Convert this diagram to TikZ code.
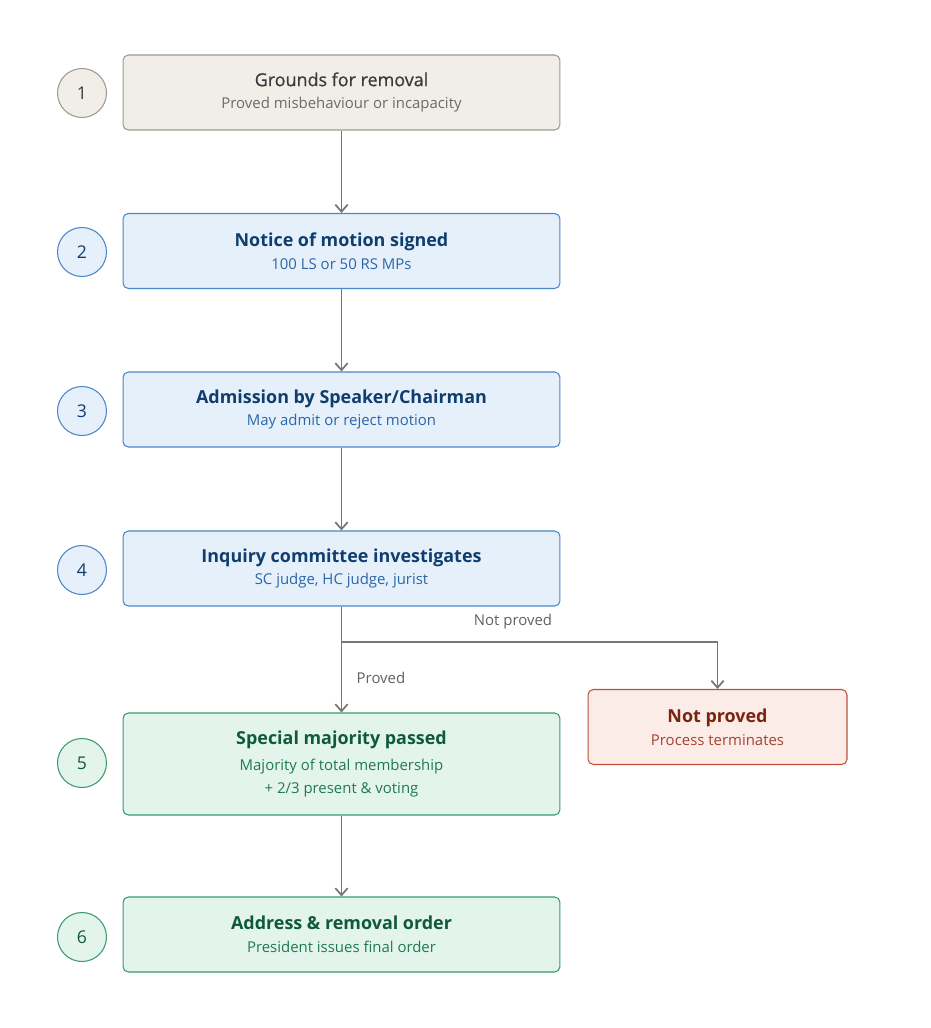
\documentclass[tikz,border=0pt]{standalone}
\usepackage{fontspec}
\setmainfont{Open Sans}
\usetikzlibrary{arrows.meta}
\definecolor{greyfill}{HTML}{F1EEE8}
\definecolor{greyline}{HTML}{9E9A92}
\definecolor{greytext}{HTML}{3A3A3A}
\definecolor{bluefill}{HTML}{E6F0FB}
\definecolor{blueline}{HTML}{4A86C8}
\definecolor{bluetext}{HTML}{0F3D6E}
\definecolor{bluesub}{HTML}{2A66AA}
\definecolor{greenfill}{HTML}{E3F4EC}
\definecolor{greenline}{HTML}{3A9A6E}
\definecolor{greentext}{HTML}{0E5A3A}
\definecolor{greensub}{HTML}{1F7A50}
\definecolor{redfill}{HTML}{FBECE8}
\definecolor{redline}{HTML}{C0503A}
\definecolor{redtext}{HTML}{7A2410}
\definecolor{arrowgrey}{HTML}{777777}
\tikzset{
  stage/.style={draw, rounded corners=3pt, minimum width=8.74cm, minimum height=1.5cm, align=center, line width=0.6pt},
  num/.style={draw, circle, minimum size=0.98cm, line width=0.6pt, font=\fontsize{10}{12}\selectfont},
  flow/.style={draw=arrowgrey, line width=1pt, -{Straight Barb[length=4pt,width=7pt]}},
  lbl/.style={text=greytext!80, font=\fontsize{8.5}{10}\selectfont}
}
\newcommand{\ttl}[1]{{\fontsize{10.2}{13}\selectfont #1}}
\newcommand{\sbt}[1]{{\fontsize{8.5}{13}\selectfont #1}}
\begin{document}
\begin{tikzpicture}[x=0.02cm, y=-0.02cm]
    \useasboundingbox (0,0) rectangle (930,1028);
    % Steps
    \node[stage, fill=greyfill, draw=greyline, text=greytext] (grounds) at (341.5,92.5)
        {\ttl{\addfontfeature{FakeBold=0.6}Grounds for removal}\\[1pt]\sbt{\color{greytext!75}Proved misbehaviour or incapacity}};
    \node[stage, fill=bluefill, draw=blueline, text=bluetext] (notice) at (341.5,251)
        {\ttl{\bfseries Notice of motion signed}\\[1pt]\sbt{\color{bluesub}100 LS or 50 RS MPs}};
    \node[stage, fill=bluefill, draw=blueline, text=bluetext] (admit) at (341.5,409.5)
        {\ttl{\bfseries Admission by Speaker/Chairman}\\[1pt]\sbt{\color{bluesub}May admit or reject motion}};
    \node[stage, fill=bluefill, draw=blueline, text=bluetext] (inquiry) at (341.5,568.5)
        {\ttl{\bfseries Inquiry committee investigates}\\[1pt]\sbt{\color{bluesub}SC judge, HC judge, jurist}};
    \node[stage, fill=greenfill, draw=greenline, text=greentext, minimum height=2.04cm] (majority) at (341.5,764)
        {\ttl{\bfseries Special majority passed}\\[3pt]\sbt{\color{greensub}Majority of total membership}\\[1pt]\sbt{\color{greensub}+ 2/3 present \& voting}};
    \node[stage, fill=greenfill, draw=greenline, text=greentext] (order) at (341.5,934.5)
        {\ttl{\bfseries Address \& removal order}\\[1pt]\sbt{\color{greensub}President issues final order}};
    \node[stage, fill=redfill, draw=redline, text=redtext, minimum width=5.18cm] (stop) at (717.5,727)
        {\ttl{\bfseries Not proved}\\[1pt]\sbt{\color{redline!85!black}Process terminates}};

    % Numbers
    \node[num, fill=greyfill, draw=greyline, text=greytext] (n1) at (82,93) {1};
    \node[num, fill=bluefill, draw=blueline, text=bluetext] (n2) at (82,252) {2};
    \node[num, fill=bluefill, draw=blueline, text=bluetext] (n3) at (82,411) {3};
    \node[num, fill=bluefill, draw=blueline, text=bluetext] (n4) at (82,570) {4};
    \node[num, fill=greenfill, draw=greenline, text=greentext] (n5) at (82,763) {5};
    \node[num, fill=greenfill, draw=greenline, text=greentext] (n6) at (82,937) {6};

    % Arrows
    \draw[flow] (grounds) -- (notice);
    \draw[flow] (notice) -- (admit);
    \draw[flow] (admit) -- (inquiry);
    \draw[flow] (inquiry.south) -- (majority.north);
    \draw[flow] (majority) -- (order);
    \coordinate (split) at (341.5,642);
    \draw[flow] (split) -| (stop.north);
    \node[lbl] (lproved) at (381,678) {Proved};
    \node[lbl] (lnot) at (513,622) {Not proved};
\end{tikzpicture}
\end{document}
